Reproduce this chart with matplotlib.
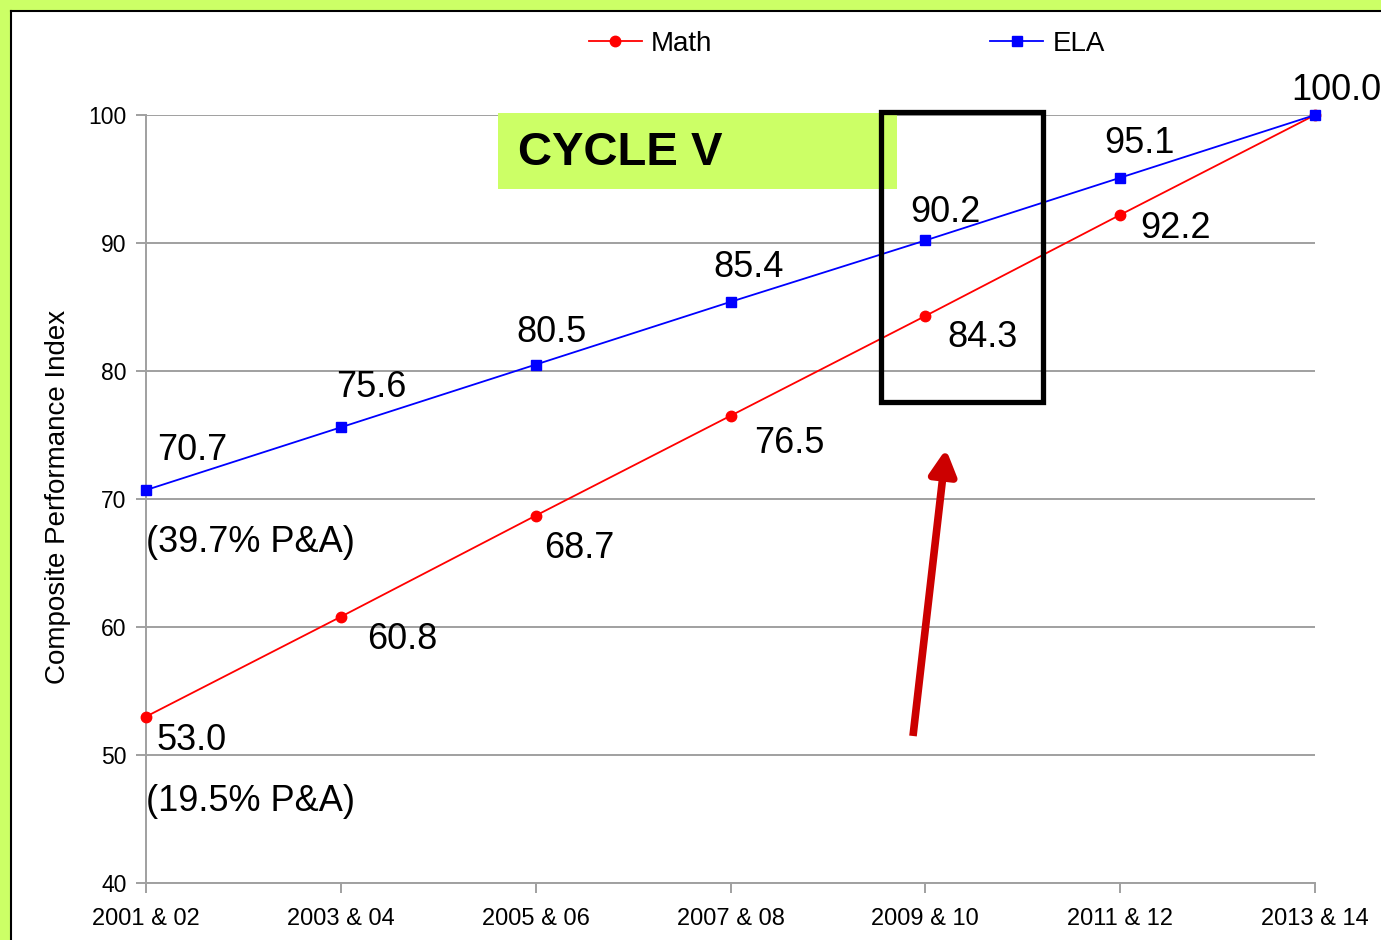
import matplotlib.pyplot as plt
from matplotlib.patches import Rectangle
from matplotlib.lines import Line2D

plt.rcParams['font.family'] = ['Liberation Sans', 'DejaVu Sans']

# data
years = ['2001 & 02', '2003 & 04', '2005 & 06', '2007 & 08', '2009 & 10', '2011 & 12', '2013 & 14']
math_vals = [53.0, 60.8, 68.7, 76.5, 84.3, 92.2, 100.0]
ela_vals = [70.7, 75.6, 80.5, 85.4, 90.2, 95.1, 100.0]
math_pa = '(19.5% P&A)'
ela_pa = '(39.7% P&A)'

# label offsets in pixels (dx, dy) from each point
ela_off = [(11, 40), (-5, 40), (-19, 32), (-17, 34), (-15, 28), (-16, 34), (-24, 24)]
math_off = [(11, -24), (26, -23), (8, -33), (24, -28), (22, -22), (20, -14), None]

W, H = 1381, 940
fig = plt.figure(figsize=(W / 100, H / 100), dpi=100)
ax = fig.add_axes([146 / W, 1 - 883 / H, (1315 - 146) / W, (883 - 115) / H])

x = list(range(len(years)))
ax.plot(x, math_vals, color='#ff0000', lw=1.3, marker='o', ms=7.5, label='Math', zorder=3, clip_on=False)
ax.plot(x, ela_vals, color='#0000ff', lw=1.3, marker='s', ms=7.5, label='ELA', zorder=3, clip_on=False)

ax.set_xlim(0, len(years) - 1)
ax.set_ylim(40, 100)
ax.set_yticks(range(40, 101, 10))
ax.set_xticks(x)
ax.set_xticklabels(years)
ax.grid(axis='y', color='#a0a0a0', lw=1.4)
ax.set_axisbelow(True)
for s in ['top', 'right']:
    ax.spines[s].set_visible(False)
for s in ['left', 'bottom']:
    ax.spines[s].set_color('#a0a0a0')
    ax.spines[s].set_linewidth(1.4)
ax.tick_params(axis='y', colors='#a0a0a0', labelcolor='black', labelsize=16.5, length=7, width=1.4, pad=7)
ax.tick_params(axis='x', colors='#a0a0a0', labelcolor='black', labelsize=17, length=7, width=1.4, pad=11)
ax.set_ylabel('Composite Performance Index', fontsize=20)
ax.yaxis.set_label_coords(-0.064, 0.503)

# data labels
for i, v in enumerate(ela_vals):
    ax.annotate(f'{v:.1f}', (i, v), xytext=ela_off[i], textcoords='offset pixels',
                ha='left', va='center', fontsize=26)
for i, v in enumerate(math_vals):
    if math_off[i] is None:
        continue
    ax.annotate(f'{v:.1f}', (i, v), xytext=math_off[i], textcoords='offset pixels',
                ha='left', va='center', fontsize=26)
ax.annotate(ela_pa, (0, ela_vals[0]), xytext=(0, -52), textcoords='offset pixels',
            ha='left', va='center', fontsize=26)
ax.annotate(math_pa, (0, math_vals[0]), xytext=(0, -85), textcoords='offset pixels',
            ha='left', va='center', fontsize=26)

# legend
handles = [Line2D([], [], color='#ff0000', lw=1.3, marker='o', ms=7.5),
           Line2D([], [], color='#0000ff', lw=1.3, marker='s', ms=7.5)]
fig.legend(handles, ['Math', 'ELA'], ncol=2, loc='center', bbox_to_anchor=(847 / W, 1 - 44 / H),
           frameon=False, fontsize=20, handlelength=1.9, handletextpad=0.35, columnspacing=10.0)

# CYCLE V box
fig.patches.append(Rectangle((498 / W, 1 - 189 / H), (897 - 498) / W, (189 - 113) / H,
                             transform=fig.transFigure, facecolor='#ccff66', edgecolor='none', zorder=1))
fig.text(518 / W, 1 - 153 / H, 'CYCLE V', fontsize=34, fontweight='bold', ha='left', va='center', zorder=2)

# black highlight box
fig.patches.append(Rectangle((881 / W, 1 - 402 / H), (1043 - 881) / W, (402 - 112) / H,
                             transform=fig.transFigure, facecolor='none', edgecolor='black', lw=3.8, zorder=5))

# red arrow
ax.annotate('', xy=(946 / W, 1 - 449 / H), xycoords='figure fraction',
            xytext=(913 / W, 1 - 736 / H), textcoords='figure fraction',
            arrowprops=dict(arrowstyle='-|>,head_length=1.5,head_width=0.8', color='#cc0000', lw=5.5,
                            shrinkA=0, shrinkB=0, capstyle='butt'))

# slide border (top and left)
fig.patches.append(Rectangle((0, 1 - 10 / H), 1, 10 / H, transform=fig.transFigure,
                             facecolor='#ccff66', edgecolor='none'))
fig.patches.append(Rectangle((0, 0), 10 / W, 1, transform=fig.transFigure,
                             facecolor='#ccff66', edgecolor='none'))
fig.lines.append(Line2D([11 / W, 1], [1 - 11 / H, 1 - 11 / H], transform=fig.transFigure, color='black', lw=1.5))
fig.lines.append(Line2D([11 / W, 11 / W], [0, 1 - 11 / H], transform=fig.transFigure, color='black', lw=1.5))

fig.savefig('out.png', dpi=100)
